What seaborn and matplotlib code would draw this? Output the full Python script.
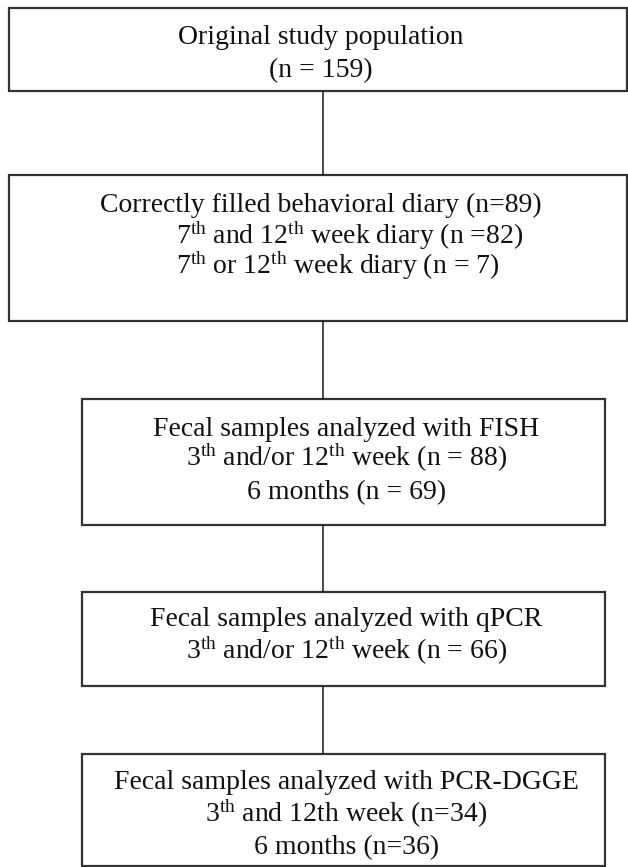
import matplotlib
matplotlib.use("Agg")
import matplotlib.pyplot as plt
import seaborn as sns
import pandas as pd
from matplotlib.patches import Rectangle

# --- flowchart content (text of each box, one entry per line) ---
box1_lines = ["Original study population", "(n = 159)"]
box2_lines = ["Correctly filled behavioral diary (n=89)",
              r"7$^{\mathrm{th}}$ and 12$^{\mathrm{th}}$ week diary (n =82)",
              r"7$^{\mathrm{th}}$ or 12$^{\mathrm{th}}$ week diary (n = 7)"]
box3_lines = ["Fecal samples analyzed with FISH",
              r"3$^{\mathrm{th}}$ and/or 12$^{\mathrm{th}}$ week (n = 88)",
              "6 months (n = 69)"]
box4_lines = ["Fecal samples analyzed with qPCR",
              r"3$^{\mathrm{th}}$ and/or 12$^{\mathrm{th}}$ week (n = 66)"]
box5_lines = ["Fecal samples analyzed with PCR-DGGE",
              r"3$^{\mathrm{th}}$ and 12th week (n=34)",
              "6 months (n=36)"]
all_lines = [box1_lines, box2_lines, box3_lines, box4_lines, box5_lines]

# --- layout (pixels, y downwards) ---
box_x0 = [9, 9, 82, 82, 82]
box_x1 = [627, 627, 605, 605, 605]
box_y0 = [8, 175, 399, 592, 754]
box_y1 = [91, 321, 525, 686, 866]
line_y = [[35, 68], [203, 235, 265], [427, 457, 490], [617, 650], [780, 813, 845]]
conn_x = 323

sns.set_theme(style="white")
plt.rcParams["font.family"] = ["Liberation Serif", "DejaVu Serif"]
plt.rcParams["mathtext.fontset"] = "custom"
plt.rcParams["mathtext.rm"] = "Liberation Serif"
plt.rcParams["mathtext.it"] = "Liberation Serif:italic"

fig = plt.figure(figsize=(6.28, 8.67), dpi=100)
ax = fig.add_axes([0, 0, 1, 1])

# connectors between consecutive boxes
conn = pd.DataFrame({
    "x": [conn_x] * 8,
    "y": [v for i in range(4) for v in (box_y1[i], box_y0[i + 1])],
    "seg": [i for i in range(4) for _ in range(2)],
})
sns.lineplot(data=conn, x="x", y="y", units="seg", estimator=None,
             color="#1a1a1a", linewidth=1.1, sort=False, ax=ax, legend=False)
ax.set_xlim(0, 628)
ax.set_ylim(867, 0)
ax.axis("off")

# boxes
for x0, x1, y0, y1 in zip(box_x0, box_x1, box_y0, box_y1):
    ax.add_patch(Rectangle((x0, y0), x1 - x0, y1 - y0, fill=False,
                           edgecolor="#333333", linewidth=1.6))

# text
for i, (lines, ys) in enumerate(zip(all_lines, line_y)):
    cx = (box_x0[i] + box_x1[i]) / 2 + 3
    for j, (txt, y) in enumerate(zip(lines, ys)):
        if i == 1 and j > 0:
            ax.text(176, y + 9, txt, ha="left", va="baseline", fontsize=20, color="#111111")
        else:
            ax.text(cx, y + 9, txt, ha="center", va="baseline", fontsize=20, color="#111111")

fig.savefig("out.png", dpi=100)
